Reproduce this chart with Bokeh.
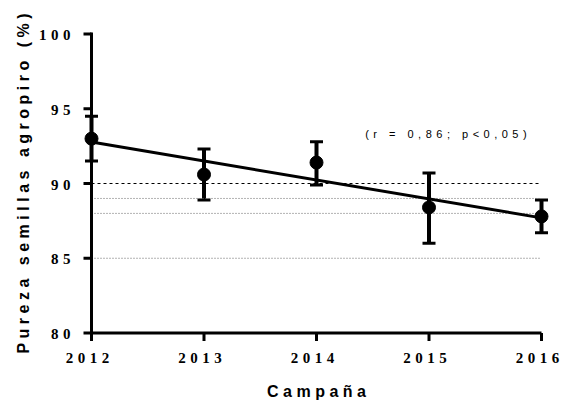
import math
from bokeh.plotting import figure
from bokeh.models import (ColumnDataSource, Whisker, TeeHead, Label,
                          LabelSet, InlineStyleSheet)
from bokeh.embed import file_html
from bokeh.resources import INLINE

# ---- data ----
years = [2012, 2013, 2014, 2015, 2016]
pureza = [93.0, 90.6, 91.4, 88.4, 87.8]
err_upper = [94.5, 92.3, 92.8, 90.7, 88.9]
err_lower = [91.5, 88.9, 89.9, 86.0, 86.7]
fit_years = [2012, 2016]
fit_values = [92.77, 87.70]
ref_levels = [90, 89, 88, 85]
y_ticks = [80, 85, 90, 95, 100]
x_tick_labels = ["2012", "2013", "2014", "2015", "2016"]
y_tick_labels = ["80", "85", "90", "95", "100"]
x_title = "Campaña"
y_title = "Pureza semillas agropiro (%)"
annotation = "(r = 0,86; p<0,05)"
annotation_pos = (2015.15, 93.3)

# ---- layout / styles ----
W, H = 563, 400
PX_X = 112.5          # px per year
PX_Y = 14.95          # px per unit
AX_LEFT, AX_BOTTOM = 91, 332.5   # pixel position of axes corner
G = 4.5               # letter spacing (px)
ref_dash = ["3 3", "1 2", "1 2", "1 2"]
ref_colors = ["black", "#666666", "#666666", "#666666"]
FONT = "Liberation Sans"

x0, y0 = years[0], y_ticks[0]
p = figure(width=W, height=H,
           x_range=(x0 - AX_LEFT / PX_X, x0 + (W - AX_LEFT) / PX_X),
           y_range=(y0 - (H - AX_BOTTOM) / PX_Y, y0 + AX_BOTTOM / PX_Y),
           x_axis_location=None, y_axis_location=None,
           output_backend="svg", toolbar_location=None,
           min_border=0, min_border_left=0, min_border_right=0,
           min_border_top=0, min_border_bottom=0)
p.stylesheets = [InlineStyleSheet(css=":host { letter-spacing: %spx; }" % G)]
p.outline_line_color = None
p.xgrid.visible = False
p.ygrid.visible = False
p.background_fill_color = "white"
p.border_fill_color = "white"

# reference lines
for lvl, dash, col in zip(ref_levels, ref_dash, ref_colors):
    p.segment(x0=[years[0]], y0=[lvl], x1=[years[-1]], y1=[lvl],
              line_color=col, line_width=1, line_dash=dash)

# axes lines and ticks
p.segment(x0=[years[0]], y0=[y_ticks[0]], x1=[years[-1]], y1=[y_ticks[0]],
          line_color="black", line_width=3)
p.segment(x0=[years[0]], y0=[y_ticks[0]], x1=[years[0]], y1=[y_ticks[-1]],
          line_color="black", line_width=3, line_cap="square")
p.ray(x=years, y=[y_ticks[0]] * len(years), length=8, length_units="screen",
      angle=-math.pi / 2, line_color="black", line_width=3)
p.ray(x=[years[0]] * len(y_ticks), y=y_ticks, length=8, length_units="screen",
      angle=math.pi, line_color="black", line_width=3)

# regression line
p.line(fit_years, fit_values, line_width=3, line_color="black")

# error bars and means
src = ColumnDataSource(dict(x=years, y=pureza, upper=err_upper, lower=err_lower))
w = Whisker(base="x", upper="upper", lower="lower", source=src,
            line_width=4, line_color="black",
            upper_head=TeeHead(size=13, line_width=3, line_color="black"),
            lower_head=TeeHead(size=13, line_width=3, line_color="black"))
p.add_layout(w)
p.scatter("x", "y", source=src, size=13, color="black")

# tick labels (letter-spacing compensated)
xl = ColumnDataSource(dict(x=years, y=[y_ticks[0]] * len(years), t=x_tick_labels,
                           xo=[-4 - (len(s) - 1) * G / 2 for s in x_tick_labels]))
p.add_layout(LabelSet(x="x", y="y", text="t", source=xl, x_offset="xo", y_offset=-20,
                      text_align="center", text_baseline="top",
                      text_font=FONT, text_font_style="bold", text_font_size="15px",
                      text_color="black"))
yl = ColumnDataSource(dict(x=[years[0]] * len(y_ticks), y=y_ticks, t=y_tick_labels,
                           xo=[-21 - (len(s) - 1) * G for s in y_tick_labels]))
p.add_layout(LabelSet(x="x", y="y", text="t", source=yl, x_offset="xo", y_offset=-1,
                      text_align="right", text_baseline="middle",
                      text_font=FONT, text_font_style="bold", text_font_size="15px",
                      text_color="black"))

# axis titles
p.add_layout(Label(x=(years[0] + years[-1]) / 2, y=y_ticks[0], text=x_title,
                   x_offset=-(len(x_title) - 1) * G / 2, y_offset=-50,
                   text_align="center", text_baseline="top",
                   text_font=FONT, text_font_style="bold", text_font_size="16px",
                   text_color="black"))
p.add_layout(Label(x=years[0], y=(y_ticks[0] + y_ticks[-1]) / 2, text=y_title,
                   x_offset=-68, y_offset=-(len(y_title) - 1) * G / 2,
                   angle=math.pi / 2,
                   text_align="center", text_baseline="middle",
                   text_font=FONT, text_font_style="bold", text_font_size="16px",
                   text_color="black"))

p.add_layout(Label(x=annotation_pos[0], y=annotation_pos[1], text=annotation,
                   x_offset=-(len(annotation) - 1) * G / 2,
                   text_align="center", text_baseline="middle",
                   text_font=FONT, text_font_size="11px", text_color="black"))

open("out.html", "w").write(file_html(p, INLINE))
